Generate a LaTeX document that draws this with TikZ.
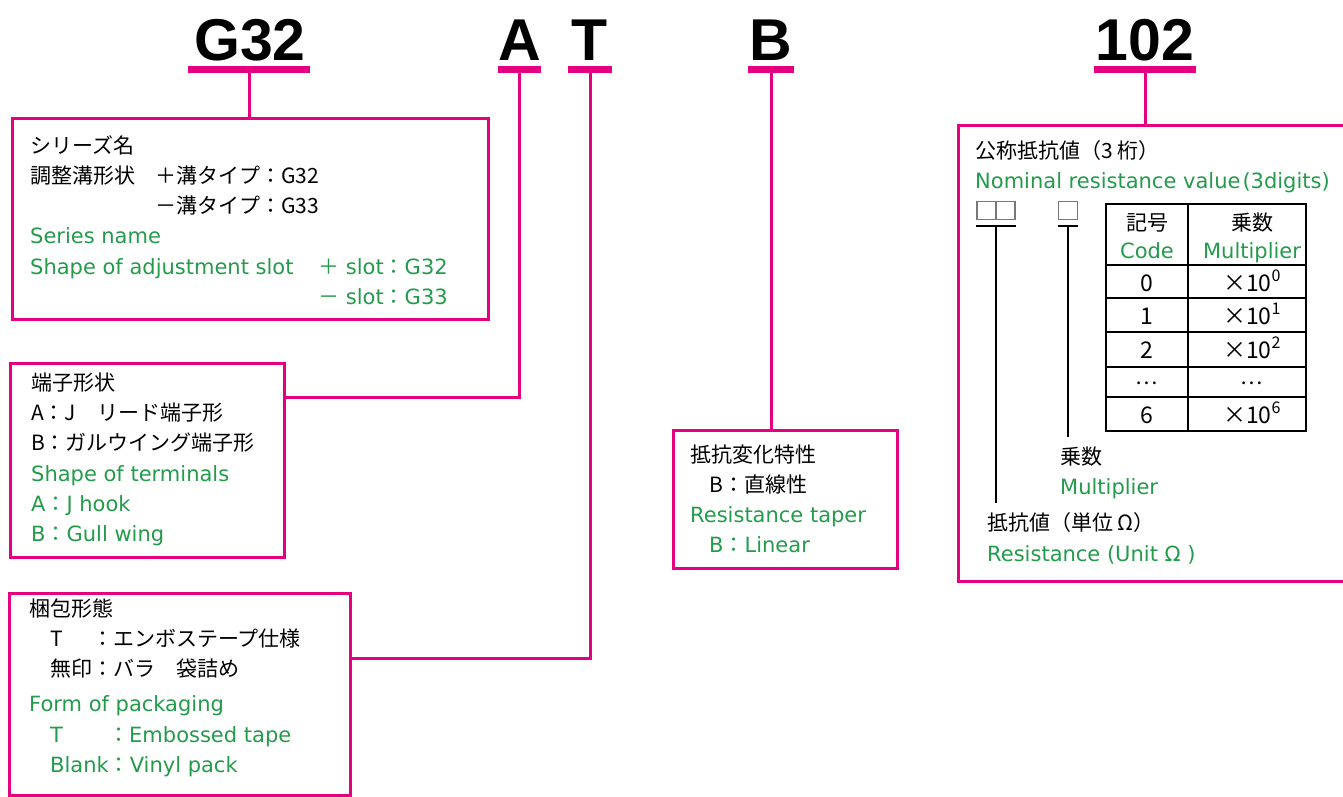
\documentclass[tikz,border=0pt]{standalone}
\usepackage{fontspec}
\setmainfont{DejaVu Sans}
\newfontfamily\jp{Noto Sans CJK JP}
\newfontfamily\bigf{Liberation Sans}
\definecolor{mag}{RGB}{228,0,127}
\definecolor{grn}{RGB}{35,155,75}
\definecolor{sqgray}{RGB}{120,120,120}
\begin{document}
\begin{tikzpicture}[x=1pt,y=-1pt,
 box/.style={draw=mag, line width=3pt, inner sep=0pt},
 ubar/.style={fill=mag, inner sep=0pt, minimum height=7pt},
 conn/.style={draw=mag, line width=3pt},
 big/.style={font=\bigf\bfseries\fontsize{59}{59}\selectfont, anchor=base, inner sep=0pt},
 jt/.style={font=\jp\fontsize{21}{24}\selectfont, anchor=base west, inner sep=0pt},
 gt/.style={font=\fontsize{21}{24}\selectfont, text=grn, anchor=base west, inner sep=0pt},
 jc/.style={font=\jp\fontsize{21}{24}\selectfont, anchor=base, inner sep=0pt},
 tc/.style={font=\jp\fontsize{23}{26}\selectfont, anchor=base, inner sep=0pt},
 gc/.style={font=\fontsize{21}{24}\selectfont, text=grn, anchor=base, inner sep=0pt},
 sq/.style={draw=sqgray, line width=1.3pt, inner sep=0pt, minimum width=19pt, minimum height=18pt},
 blk/.style={draw=black, line width=2pt},
]
\useasboundingbox (0,0) rectangle (1343,796);

% ---- top code letters ----
\node[big] (tG) at (250,60) {G32};
\node[big] (tA) at (519.5,60) {A};
\node[big] (tT) at (590,60) {T};
\node[big] (tB) at (771,60) {B};
\node[big] (t102) at (1145,60) {102};
\node[ubar, minimum width=122pt] (uG) at (249,69.5) {};
\node[ubar, minimum width=43pt] (uA) at (519.5,69.5) {};
\node[ubar, minimum width=44pt] (uT) at (590,69.5) {};
\node[ubar, minimum width=46pt] (uB) at (771,69.5) {};
\node[ubar, minimum width=102pt] (u102) at (1145,69.5) {};

% ---- boxes ----
\node[box, minimum width=476pt, minimum height=201pt] (b1) at (250,218.5) {};
\node[box, minimum width=274pt, minimum height=194pt] (b2) at (147,460) {};
\node[box, minimum width=341pt, minimum height=202pt] (b3) at (179.5,694) {};
\node[box, minimum width=224pt, minimum height=138pt] (b4) at (785,499) {};
\node[box, minimum width=392pt, minimum height=456pt] (b5) at (1154,353) {};

% ---- connectors ----
\draw[conn] (uG.south) -- (uG.south |- b1.north);
\coordinate (cA) at (519.5,397);
\draw[conn] (uA.south) -- (cA) -- (cA -| b2.east);
\coordinate (cT) at (590,658);
\draw[conn] (uT.south) -- (cT) -- (cT -| b3.east);
\draw[conn] (uB.south) -- (uB.south |- b4.north);
\draw[conn] (u102.south) -- (u102.south |- b5.north);

% ---- box 1 ----
\node[jt] (l11) at (30,153) {シリーズ名};
\node[jt] (l12) at (30,183) {調整溝形状};
\node[jt] (l12b) at (155,183) {＋溝タイプ：G32};
\node[jt] (l13) at (155,213) {－溝タイプ：G33};
\node[gt] (l14) at (30,243) {Series name};
\node[gt] (l15) at (30,274) {Shape of adjustment slot};
\node[gt] (l15b) at (318,274) {{\jp ＋} slot{\jp ：}G32};
\node[gt] (l16) at (318,304) {{\jp －} slot{\jp ：}G33};

% ---- box 2 ----
\node[jt] (l21) at (31,390) {端子形状};
\node[jt] (l22) at (31,420) {A：J　リード端子形};
\node[jt] (l23) at (31,450) {B：ガルウイング端子形};
\node[gt] (l24) at (31,481) {Shape of terminals};
\node[gt] (l25) at (31,511) {A{\jp ：}J hook};
\node[gt] (l26) at (31,541) {B{\jp ：}Gull wing};

% ---- box 3 ----
\node[jt] (l31) at (29,616) {梱包形態};
\node[jt] (l32) at (50,646) {T};
\node[jt] (l32b) at (92,646) {：エンボステープ仕様};
\node[jt] (l33) at (50,676) {無印：バラ　袋詰め};
\node[gt] (l34) at (29,711) {Form of packaging};
\node[gt] (l35) at (50,742) {T};
\node[gt] (l35b) at (108,742) {{\jp ：}Embossed tape};
\node[gt] (l36) at (50,772) {Blank{\jp ：}Vinyl pack};

% ---- box 4 ----
\node[jt] (l41) at (690,462) {抵抗変化特性};
\node[jt] (l42) at (709,492) {B：直線性};
\node[gt] (l43) at (690,522) {Resistance taper};
\node[gt] (l44) at (709,552) {B{\jp ：}Linear};

% ---- box 5 ----
\node[jt] (l51) at (975,158) {公称抵抗値（3 桁）};
\node[gt] (l52) at (975,188) {Nominal resistance value\kern2pt(3digits)};
\node[sq] (s1) at (986.5,210.5) {};
\node[sq] (s2) at (1005.5,210.5) {};
\node[sq] (s3) at (1068,210.5) {};
\coordinate (d1) at (976,226);
\coordinate (d2) at (1016,226);
\coordinate (d3) at (1058,226);
\coordinate (d4) at (1078,226);
\draw[blk] (d1) -- (d2);
\draw[blk] (d3) -- (d4);
\node[jt] (l53) at (1060,464) {乗数};
\node[gt] (l54) at (1060,494) {Multiplier};
\node[jt] (l55) at (987,530) {抵抗値（単位 Ω）};
\node[gt] (l56) at (987,561) {Resistance (Unit Ω )};
\draw[blk] (996,226) -- (996,503);
\draw[blk] (1068,226) -- (1068,437);

% ---- table ----
\draw[black, line width=2pt] (1106,204) rectangle (1306,431);
\draw[black, line width=1.2pt] (1188,204) -- (1188,431);
\foreach \yy in {265,298,332,367,397} \draw[black, line width=1.2pt] (1106,\yy) -- (1306,\yy);
\node[jc] (h1) at (1147,230) {記号};
\node[gc] (h2) at (1147,258) {Code};
\node[jc] (h3) at (1252,230) {乗数};
\node[gc] (h4) at (1252,258) {Multiplier};
\node[tc] (r0a) at (1147,291) {0};
\node[tc] (r0b) at (1252,291) {×10\textsuperscript{0}};
\node[tc] (r1a) at (1147,324) {1};
\node[tc] (r1b) at (1252,324) {×10\textsuperscript{1}};
\node[tc] (r2a) at (1147,358) {2};
\node[tc] (r2b) at (1252,358) {×10\textsuperscript{2}};
\node[jc] (r3a) at (1147,384) {…};
\node[jc] (r3b) at (1252,384) {…};
\node[tc] (r6a) at (1147,423) {6};
\node[tc] (r6b) at (1252,423) {×10\textsuperscript{6}};
\end{tikzpicture}
\end{document}
